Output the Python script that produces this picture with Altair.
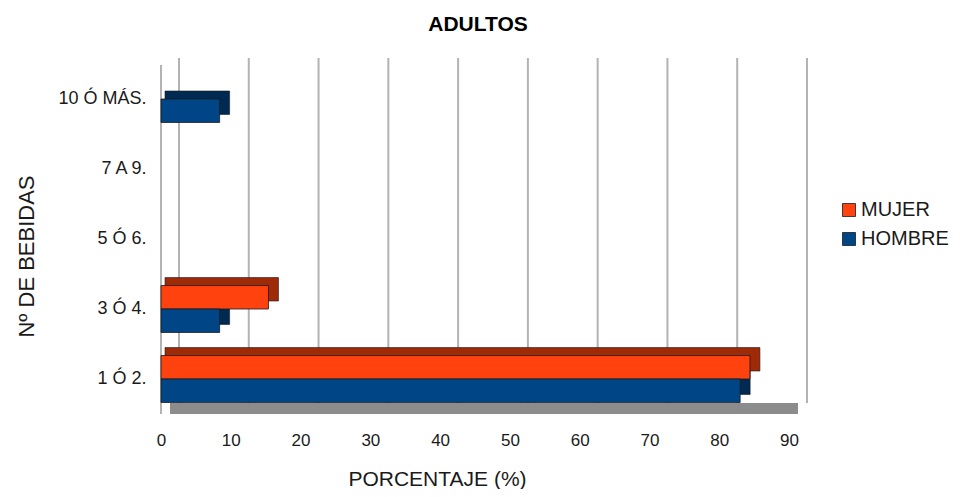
import altair as alt
import pandas as pd

categorias = ["10 Ó MÁS.", "7 A 9.", "5 Ó 6.", "3 Ó 4.", "1 Ó 2."]
mujer = [0, 0, 0, 15.4, 84.4]
hombre = [8.4, 0, 0, 8.4, 83.0]
series = ["MUJER", "HOMBRE"]
colores = ["#ff420e", "#004586"]
sombras = ["#9e2a08", "#002a52"]
ticks_x = [0, 10, 20, 30, 40, 50, 60, 70, 80, 90]

FONT = "Liberation Sans"

rows = []
for c, m, h in zip(categorias, mujer, hombre):
    rows.append({"cat": c, "sexo": "MUJER", "valor": m})
    rows.append({"cat": c, "sexo": "HOMBRE", "valor": h})
df = pd.DataFrame(rows)
df = df[df["valor"] > 0]

grid_df = pd.DataFrame({"valor": ticks_x})

x_scale = alt.Scale(domain=[0, 90], nice=False, zero=True)
x_axis = alt.Axis(values=ticks_x, grid=False, domain=False, ticks=False,
                  labelFont=FONT, labelFontSize=17, labelColor="#1a1a1a",
                  labelPadding=18, labelFlush=False, titleFont=FONT, titleFontSize=21,
                  titleFontWeight="normal", titleColor="#1a1a1a",
                  titleX=276, titleY=65, titleBaseline="middle", titleAlign="center")
y_scale = alt.Scale(domain=categorias, paddingInner=0.33, paddingOuter=0.165)
y_scale_shadow = alt.Scale(domain=categorias, range=[-8, 342], paddingInner=0.33, paddingOuter=0.165)
y_axis = alt.Axis(grid=False, domain=False, ticks=False, labelFont=FONT,
                  labelFontSize=18, labelColor="#1a1a1a", labelPadding=15,
                  titleFont=FONT, titleFontSize=22, titleFontWeight="normal",
                  titleColor="#1a1a1a", titleX=-135, titleY=192,
                  titleBaseline="middle", titleAlign="center", titleAngle=-90)

X = alt.X("valor:Q", scale=x_scale, axis=x_axis, title="PORCENTAJE (%)")
Y = alt.Y("cat:N", scale=y_scale, axis=y_axis, title="Nº DE BEBIDAS")
YS = alt.Y("cat:N", scale=y_scale_shadow, axis=None)
YO = alt.YOffset("sexo:N", scale=alt.Scale(domain=series))

floor = alt.Chart(grid_df).mark_rect(color="#8c8c8c", xOffset=9, x2Offset=9).encode(
    x=alt.datum(0, scale=x_scale), x2=alt.datum(90),
    y=alt.value(339), y2=alt.value(350))

grid = alt.Chart(grid_df).mark_rule(color="#b3b3b3", strokeWidth=2, xOffset=18).encode(
    x=alt.X("valor:Q", scale=x_scale, axis=x_axis, title="PORCENTAJE (%)"),
    y=alt.value(-6), y2=alt.value(339))

wall = alt.Chart(grid_df).mark_rule(color="#b3b3b3", strokeWidth=1.5).encode(
    x=alt.datum(0, scale=x_scale), y=alt.value(1), y2=alt.value(350))

shadow = alt.Chart(df).mark_bar(stroke="#1a1a1a", strokeWidth=0.6,
                                xOffset=10, x2Offset=4).encode(
    x=X, x2=alt.datum(0), y=YS, yOffset=YO,
    color=alt.Color("sexo:N", scale=alt.Scale(domain=series, range=sombras), legend=None))

bars = alt.Chart(df).mark_bar(stroke="#1a1a1a", strokeWidth=0.8).encode(
    x=X, x2=alt.datum(0), y=Y, yOffset=YO,
    color=alt.Color("sexo:N", scale=alt.Scale(domain=series, range=colores),
                    legend=alt.Legend(orient="none", legendX=678, legendY=136, title=None,
                                      labelFont=FONT, labelFontSize=20, labelColor="#1a1a1a",
                                      symbolType="square", symbolSize=169,
                                      symbolStrokeColor="#1a1a1a", symbolStrokeWidth=0.8,
                                      symbolOpacity=1, labelOffset=2, rowPadding=9)))

chart = alt.layer(floor, grid, wall, shadow, bars).resolve_scale(
    color="independent", y="independent").properties(
    width=628, height=350,
    autosize="none",
    padding={"left": 153, "top": 56, "right": 164, "bottom": 75},
    title=alt.TitleParams("ADULTOS", font=FONT, fontSize=21, fontWeight="bold",
                          color="black", anchor="middle", offset=22, dx=3),
).configure_view(stroke=None)

chart.save("out.html", embed_options={"renderer": "svg", "actions": False})
